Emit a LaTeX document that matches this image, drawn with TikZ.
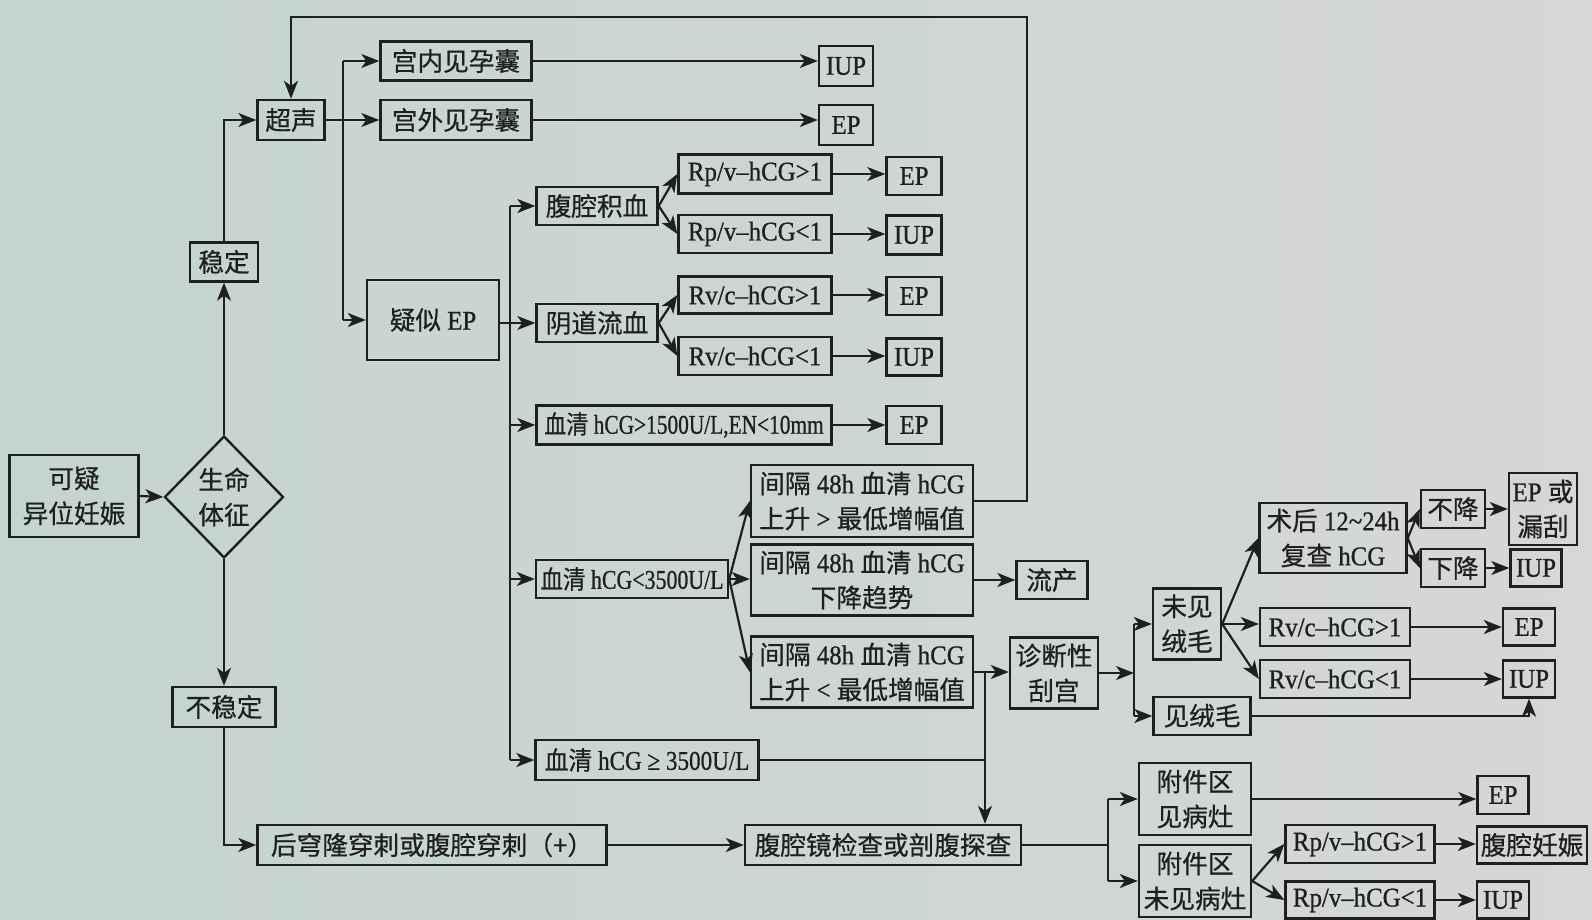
\documentclass[tikz,border=0pt]{standalone}
\usepackage{fontspec}
\usepackage{graphicx}
\setmainfont{Liberation Serif}[FakeStretch=0.92,FakeBold=0.8]
\newfontfamily\zh{Noto Sans CJK SC}[Scale=0.95,FakeBold=0.6]
\usetikzlibrary{shapes.geometric,arrows.meta}
\definecolor{bgL}{RGB}{196,212,207}
\definecolor{bgR}{RGB}{214,215,214}
\definecolor{ink}{RGB}{30,32,32}
\begin{document}
\begin{tikzpicture}[x=1pt,y=-1pt,
  box/.style={draw=ink, line width=2.4pt, inner sep=0pt, align=center, text=ink, font=\fontsize{27}{35}\selectfont},
  arr/.style={draw=ink, line width=2.2pt, -{Stealth[length=18pt,width=14pt,inset=5pt]}},
  ln/.style={draw=ink, line width=2.2pt}]
\shade[left color=bgL, right color=bgR] (0,0) rectangle (1592,920);
\useasboundingbox (0,0) rectangle (1592,920);

% left part
\node[box, minimum width=129pt, minimum height=82pt] (kyi) at (74,496) {{\zh 可疑}\\{\zh 异位妊娠}};
\node[box, diamond, minimum width=119pt, minimum height=122pt] (dia) at (224,497) {{\zh 生命}\\{\zh 体征}};
\node[box, minimum width=68pt, minimum height=39pt] (wd) at (224,262) {{\zh 稳定}};
\node[box, minimum width=103pt, minimum height=40pt] (bwd) at (224,707) {{\zh 不稳定}};
\node[box, minimum width=67pt, minimum height=40pt] (cs) at (291,120) {{\zh 超声}};
\node[box, minimum width=151pt, minimum height=39pt] (gn) at (456,61) {{\zh 宫内见孕囊}};
\node[box, minimum width=151pt, minimum height=40pt] (gw) at (456,120) {{\zh 宫外见孕囊}};
\node[box, minimum width=54pt, minimum height=40pt] (iup1) at (846,66) {IUP};
\node[box, minimum width=54pt, minimum height=40pt] (ep1) at (846,125) {EP};
\node[box, minimum width=132pt, minimum height=80pt] (ys) at (433,320) {{\zh 疑似} EP};

% middle column
\node[box, minimum width=121pt, minimum height=38pt] (fq) at (597,206) {{\zh 腹腔积血}};
\node[box, minimum width=153pt, minimum height=39pt] (rp1) at (755,174) {Rp/v–hCG>1};
\node[box, minimum width=153pt, minimum height=38pt] (rp2) at (755,234) {Rp/v–hCG<1};
\node[box, minimum width=55pt, minimum height=38pt] (ep2) at (914,176) {EP};
\node[box, minimum width=55pt, minimum height=39pt] (iup2) at (914,235) {IUP};
\node[box, minimum width=121pt, minimum height=38pt] (yd) at (597,323) {{\zh 阴道流血}};
\node[box, minimum width=153pt, minimum height=37pt] (rv1) at (755,295) {Rv/c–hCG>1};
\node[box, minimum width=153pt, minimum height=38pt] (rv2) at (755,356) {Rv/c–hCG<1};
\node[box, minimum width=55pt, minimum height=38pt] (ep3) at (914,296) {EP};
\node[box, minimum width=55pt, minimum height=37pt] (iup3) at (914,357) {IUP};
\node[box, minimum width=295pt, minimum height=39pt] (xq1) at (684,425) {\scalebox{0.86}[1]{{\zh 血清} hCG>1500U/L,EN<10mm}};
\node[box, minimum width=55pt, minimum height=38pt] (ep4) at (914,425) {EP};
\node[box, minimum width=192pt, minimum height=38pt] (xq2) at (632,579) {\scalebox{0.88}[1]{{\zh 血清} hCG<3500U/L}};
\node[box, minimum width=222pt, minimum height=72pt] (ss) at (862,501) {{\zh 间隔} 48h {\zh 血清} hCG\\{\zh 上升} > {\zh 最低增幅值}};
\node[box, minimum width=222pt, minimum height=71pt] (xj) at (862,580) {{\zh 间隔} 48h {\zh 血清} hCG\\{\zh 下降趋势}};
\node[box, minimum width=71pt, minimum height=38pt] (lc) at (1052,580) {{\zh 流产}};
\node[box, minimum width=222pt, minimum height=71pt] (sx) at (862,672) {{\zh 间隔} 48h {\zh 血清} hCG\\{\zh 上升} < {\zh 最低增幅值}};
\node[box, minimum width=88pt, minimum height=71pt] (zd) at (1054,673) {{\zh 诊断性}\\{\zh 刮宫}};
\node[box, minimum width=223pt, minimum height=40pt] (xq3) at (647,760) {\scalebox{0.93}[1]{{\zh 血清} hCG ≥ 3500U/L}};
\node[box, minimum width=349pt, minimum height=40pt] (hq) at (432,845) {{\zh 后穹隆穿刺或腹腔穿刺（+）}};
\node[box, minimum width=276pt, minimum height=40pt] (fqj) at (883,845) {{\zh 腹腔镜检查或剖腹探查}};

% right part
\node[box, minimum width=68pt, minimum height=71pt] (wj) at (1187,624) {{\zh 未见}\\{\zh 绒毛}};
\node[box, minimum width=97pt, minimum height=38pt] (jr) at (1202,716) {{\zh 见绒毛}};
\node[box, minimum width=147pt, minimum height=70pt] (sh) at (1333,538) {{\zh 术后} 12\textasciitilde24h\\{\zh 复查} hCG};
\node[box, minimum width=64pt, minimum height=38pt] (bj) at (1453,509) {{\zh 不降}};
\node[box, minimum width=64pt, minimum height=38pt] (xj2) at (1453,568) {{\zh 下降}};
\node[box, minimum width=68pt, minimum height=72pt] (eplg) at (1543,509) {EP {\zh 或}\\{\zh 漏刮}};
\node[box, minimum width=51pt, minimum height=37pt] (iup4) at (1536,568) {IUP};
\node[box, minimum width=150pt, minimum height=38pt] (rv3) at (1335,627) {Rv/c–hCG>1};
\node[box, minimum width=150pt, minimum height=38pt] (rv4) at (1335,679) {Rv/c–hCG<1};
\node[box, minimum width=52pt, minimum height=37pt] (ep5) at (1529,627) {EP};
\node[box, minimum width=52pt, minimum height=37pt] (iup5) at (1529,679) {IUP};
\node[box, minimum width=112pt, minimum height=72pt] (fj1) at (1195,799) {{\zh 附件区}\\{\zh 见病灶}};
\node[box, minimum width=112pt, minimum height=72pt] (fj2) at (1195,881) {{\zh 附件区}\\{\zh 未见病灶}};
\node[box, minimum width=51pt, minimum height=38pt] (ep6) at (1503,795) {EP};
\node[box, minimum width=149pt, minimum height=38pt] (rp3) at (1360,844) {Rp/v–hCG>1};
\node[box, minimum width=149pt, minimum height=37pt] (rp4) at (1360,900) {Rp/v–hCG<1};
\node[box, minimum width=110pt, minimum height=37pt] (fqrs) at (1532,845) {{\zh 腹腔妊娠}};
\node[box, minimum width=52pt, minimum height=37pt] (iup6) at (1503,900) {IUP};

% junction coordinates
\coordinate (j1) at (343,120);
\coordinate (v1) at (510,300);
\coordinate (v2) at (985,672);
\coordinate (j3) at (1134,673);
\coordinate (j4) at (1108,845);
\coordinate (tr) at (1027,17);

% left connectors
\draw[arr] (kyi.east) -- (dia.west);
\draw[arr] (dia.north) -- (dia.north |- wd.south);
\draw[arr] (wd.north) |- (cs.west);
\draw[arr] (dia.south) -- (dia.south |- bwd.north);
\draw[arr] (bwd.south) |- (hq.west);
\draw[arr] (cs.east) -- (gw.west);
\draw[ln] (j1 |- gn.west) -- (j1 |- ys.west);
\draw[arr] (j1 |- gn.west) -- (gn.west);
\draw[arr] (j1 |- ys.west) -- (ys.west);
\draw[arr] (gn.east) -- (gn.east -| iup1.west);
\draw[arr] (gw.east) -- (gw.east -| ep1.west);
\draw[arr] (ss.east) -| (tr) -| (cs.north);

% middle connectors
\draw[ln] (v1 |- fq.west) -- (v1 |- xq3.west);
\draw[arr] (v1 |- fq.west) -- (fq.west);
\draw[arr] (ys.east |- yd.west) -- (yd.west);
\draw[arr] (v1 |- xq1.west) -- (xq1.west);
\draw[arr] (v1 |- xq2.west) -- (xq2.west);
\draw[arr] (v1 |- xq3.west) -- (xq3.west);
\draw[arr] (fq.east) -- (rp1.west);
\draw[arr] (fq.east) -- (rp2.west);
\draw[arr] (rp1.east) -- (rp1.east -| ep2.west);
\draw[arr] (rp2.east) -- (rp2.east -| iup2.west);
\draw[arr] (yd.east) -- (rv1.west);
\draw[arr] (yd.east) -- (rv2.west);
\draw[arr] (rv1.east) -- (rv1.east -| ep3.west);
\draw[arr] (rv2.east) -- (rv2.east -| iup3.west);
\draw[arr] (xq1.east) -- (xq1.east -| ep4.west);
\draw[arr] (xq2.east) -- (ss.west);
\draw[arr] (xq2.east) -- (xq2.east -| xj.west);
\draw[arr] (xq2.east) -- (sx.west);
\draw[arr] (xj.east) -- (xj.east -| lc.west);
\draw[arr] (sx.east) -- (sx.east -| zd.west);
\draw[arr] (v2) -- (v2 |- fqj.north);
\draw[ln] (xq3.east) -- (xq3.east -| v2);
\draw[arr] (hq.east) -- (fqj.west);

% right connectors
\draw[arr] (zd.east) -- (zd.east -| j3);
\draw[ln] (j3 |- wj.west) -- (j3 |- jr.west);
\draw[arr] (j3 |- wj.west) -- (wj.west);
\draw[arr] (j3 |- jr.west) -- (jr.west);
\draw[arr] (wj.east) -- (sh.west);
\draw[arr] (wj.east) -- (wj.east -| rv3.west);
\draw[arr] (wj.east) -- (rv4.west);
\draw[arr] (sh.east) -- (bj.west);
\draw[arr] (sh.east) -- (xj2.west);
\draw[arr] (bj.east) -- (bj.east -| eplg.west);
\draw[arr] (xj2.east) -- (xj2.east -| iup4.west);
\draw[arr] (rv3.east) -- (rv3.east -| ep5.west);
\draw[arr] (rv4.east) -- (rv4.east -| iup5.west);
\draw[arr] (jr.east) -| (iup5.south);
\draw[ln] (fqj.east) -- (fqj.east -| j4);
\draw[ln] (j4 |- fj1.west) -- (j4 |- fj2.west);
\draw[arr] (j4 |- fj1.west) -- (fj1.west);
\draw[arr] (j4 |- fj2.west) -- (fj2.west);
\draw[arr] (fj1.east) -- (fj1.east -| ep6.west);
\draw[arr] (fj2.east) -- (rp3.west);
\draw[arr] (fj2.east) -- (rp4.west);
\draw[arr] (rp3.east) -- (rp3.east -| fqrs.west);
\draw[arr] (rp4.east) -- (rp4.east -| iup6.west);
\end{tikzpicture}
\end{document}
